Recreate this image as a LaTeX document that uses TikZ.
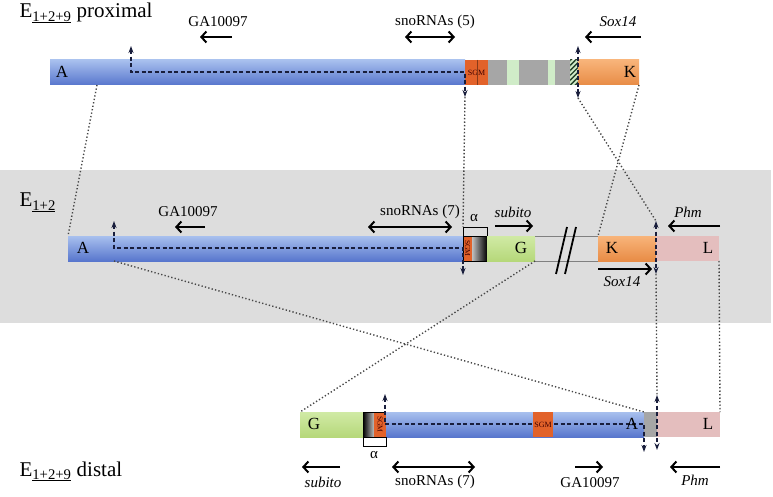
\documentclass[tikz,border=0pt]{standalone}
\usepackage{fontspec}
\setmainfont{Liberation Serif}
\usetikzlibrary{patterns.meta, arrows.meta}

\definecolor{bluetop}{RGB}{168,192,238}
\definecolor{bluebot}{RGB}{88,118,205}
\definecolor{orgtop}{RGB}{248,180,122}
\definecolor{orgbot}{RGB}{232,140,70}
\definecolor{sgmred}{RGB}{226,98,42}
\definecolor{grntop}{RGB}{208,234,165}
\definecolor{grnbot}{RGB}{182,216,122}
\definecolor{palegreen}{RGB}{208,236,200}
\definecolor{seggray}{RGB}{166,166,166}
\definecolor{pinkseg}{RGB}{228,190,190}
\definecolor{bandgray}{RGB}{221,221,221}
\definecolor{dotgray}{RGB}{70,70,70}
\definecolor{dashnavy}{RGB}{25,30,60}
\definecolor{hatchgreen}{RGB}{35,65,40}

\begin{document}
\begin{tikzpicture}[
  x=1pt, y=-1pt,
  seg/.style={rectangle, inner sep=0pt, outer sep=0pt, minimum height=25pt, anchor=north west},
  blueseg/.style={seg, top color=bluetop, bottom color=bluebot},
  orangeseg/.style={seg, top color=orgtop, bottom color=orgbot},
  greenseg/.style={seg, top color=grntop, bottom color=grnbot},
  grayseg/.style={seg, fill=seggray},
  paleseg/.style={seg, fill=palegreen},
  pinkseg/.style={seg, fill=pinkseg},
  hatchseg/.style={seg, fill=palegreen,
    postaction={pattern={Lines[angle=45,distance=3.5pt,line width=1.4pt]}, pattern color=hatchgreen}},
  sgm/.style={seg, fill=sgmred, text=black!75!red, font=\fontsize{8}{8}\selectfont},
  sgmtext/.style={rotate=-90, text=black!75!red, font=\fontsize{7.5}{7.5}\selectfont, inner sep=0pt},
  letter/.style={font=\fontsize{17}{17}\selectfont},
  lab/.style={font=\fontsize{15}{18}\selectfont},
  title/.style={anchor=base west, font=\fontsize{21}{24}\selectfont},
  gene/.style={line width=2pt, >={Straight Barb[length=5pt,width=11pt]}},
  dashline/.style={dashnavy, line width=1.4pt, dash pattern=on 4pt off 2.5pt,
    >={Stealth[length=7pt,width=5pt]}},
  dotline/.style={dotgray, line width=1.4pt, dash pattern=on 1.3pt off 2.2pt},
  bracket/.style={line width=0.8pt},
  gapline/.style={gray, line width=1pt},
  breakmark/.style={line width=1.8pt},
  band/.style={rectangle, fill=bandgray, minimum width=771pt, minimum height=153pt, inner sep=0pt}
]
\useasboundingbox (0,0) rectangle (773,497);

% Background band
\node[band] (band) at (385.5,246.5) {};

% Proximal segments
\node[blueseg, minimum width=415pt] (pA) at (50,60) {};
\node[sgm, minimum width=23pt] (pS) at (465,60) {SGM};
\node[grayseg, minimum width=19pt] (pG1) at (488,60) {};
\node[paleseg, minimum width=12pt] (pP1) at (507,60) {};
\node[grayseg, minimum width=29pt] (pG2) at (519,60) {};
\node[paleseg, minimum width=7pt] (pP2) at (548,60) {};
\node[grayseg, minimum width=15pt] (pG3) at (555,60) {};
\node[hatchseg, minimum width=8pt] (pH) at (570,60) {};
\node[orangeseg, minimum width=61pt] (pK) at (578,60) {};
\draw[sgmred!60!black, line width=0.4pt] ([xshift=12pt]pS.north west) -- ([xshift=12pt]pS.south west);

% E1+2 segments
\node[blueseg, minimum width=395pt] (qA) at (68,236) {};
\node[sgm, minimum width=9pt] (qS) at (463,236) {};
\node[seg, minimum width=15pt, left color=black!25, right color=black] (qX) at (472,236) {};
\node[sgmtext] (qSt) at (qS.center) {SGM};
\draw[line width=0.6pt] (qS.north west) rectangle (qX.south east);
\node[greenseg, minimum width=48pt] (qG) at (487,236) {};
\node[orangeseg, minimum width=58pt] (qK) at (598,236) {};
\node[pinkseg, minimum width=63pt] (qL) at (656,236) {};
\draw[gapline] (qG.north east) -- (qK.north west);
\draw[gapline] (qG.south east) -- (qK.south west);
\coordinate (brk) at (566,250);
\draw[breakmark] ([shift={(-10,24)}]brk) -- ++(11,-47);
\draw[breakmark] ([shift={(-1,24)}]brk) -- ++(11,-47);

% Distal segments
\node[greenseg, minimum width=63pt] (rG) at (300,412) {};
\node[seg, minimum width=11pt, left color=black, right color=black!25] (rX) at (363,412) {};
\node[sgm, minimum width=12pt] (rS) at (374,412) {};
\node[sgmtext] (rSt) at (rS.center) {SGM};
\draw[line width=0.6pt] (rX.north west) rectangle (rS.south east);
\node[blueseg, minimum width=258pt] (rA) at (386,412) {};
\node[grayseg, minimum width=13pt] (rY) at (644,412) {};
\node[pinkseg, minimum width=63pt] (rL) at (657,412) {};

% Dashed breakpoints
\coordinate (pU) at (131,46); \coordinate (pU0) at (131,72);
\coordinate (pD0) at (465,72); \coordinate (pD) at (465,97);
\coordinate (pT) at (578,46); \coordinate (pB) at (578,98);
\draw[dashline, <->] (pU) -- (pU0) -- (pD0) -- (pD);
\draw[dashline, <->] (pT) -- (pB);

\coordinate (qU) at (114,221); \coordinate (qU0) at (114,248);
\coordinate (qD0) at (463,248); \coordinate (qD) at (463,275);
\coordinate (qT) at (656,221); \coordinate (qB) at (656,274);
\draw[dashline, <->] (qU) -- (qU0) -- (qD0) -- (qD);
\draw[dashline, <->] (qT) -- (qB);

\coordinate (rU) at (385,394); \coordinate (rU0) at (385,424);
\coordinate (rD0) at (644,424); \coordinate (rD) at (644,452);
\coordinate (rT) at (657,395); \coordinate (rB) at (657,450);
\draw[dashline, <->] (rU) -- (rU0) -- (rD0) -- (rD);
\draw[dashline, <->] (rT) -- (rB);
\node[sgm, minimum width=20pt] (rS2) at (533,412) {SGM};

% Dotted correspondences
\coordinate (pa) at (97,85);
\coordinate (qbr) at (463,227);
\coordinate (qa) at (114,261);
\draw[dotline] (pa) -- (qA.north west);
\draw[dotline] (pD) -- (qbr);
\draw[dotline] (pB) -- (qT);
\draw[dotline] (pK.south east) -- (qK.north west);
\draw[dotline] (qa) -- (rA.north east);
\draw[dotline] (qG.south east) -- (rG.north west);
\draw[dotline] (qB) -- (rT);
\draw[dotline] (qL.south east) -- (rL.north east);

% Alpha brackets
\draw[bracket] (qS.north west) -- ++(0,-9) -| (qX.north east);
\node[lab] (qal) at (474,218) {α};
\draw[bracket] (rX.south west) -- ++(0,9) -| (rS.south east);
\node[lab] (ral) at (374,455) {α};

% Segment letters
\node[letter] (lpA) at (62,72) {A};
\node[letter] (lpK) at (630,72) {K};
\node[letter] (lqA) at (83,248) {A};
\node[letter] (lqG) at (521,248) {G};
\node[letter] (lqK) at (612,248) {K};
\node[letter] (lqL) at (708,248) {L};
\node[letter] (lrG) at (314,424) {G};
\node[letter] (lrA) at (632,424) {A};
\node[letter] (lrL) at (708,424) {L};

% Titles
\node[title] (ttlp) at (16,18) {E\textsubscript{\underline{1+2+9}} proximal};
\node[title] (ttlq) at (16,207) {E\textsubscript{\underline{1+2}}};
\node[title] (ttlr) at (16,476) {E\textsubscript{\underline{1+2+9}} distal};

% Genes
\node[lab] (t1) at (218,22) {GA10097};
\draw[gene, ->] ([shift={(14,15)}]t1.center) -- ++(-32,0);
\node[lab] (t2) at (435,22) {snoRNAs (5)};
\draw[gene, <->] ([shift={(-30,15)}]t2.center) -- ++(50,0);
\node[lab] (t3) at (618,22) {\itshape Sox14};
\draw[gene, ->] ([shift={(23,15)}]t3.center) -- ++(-56,0);

\node[lab] (t4) at (188,212) {GA10097};
\draw[gene, ->] ([shift={(17,15)}]t4.center) -- ++(-30,0);
\node[lab] (t5) at (420,212) {snoRNAs (7)};
\draw[gene, <->] ([shift={(-52,15)}]t5.center) -- ++(84,0);
\node[lab] (t6) at (513,212) {\itshape subito};
\draw[gene, ->] ([shift={(-18,14)}]t6.center) -- ++(38,0);
\node[lab] (t7) at (688,212) {\itshape Phm};
\draw[gene, ->] ([shift={(32,14)}]t7.center) -- ++(-52,0);
\node[lab] (t8) at (622,282) {\itshape Sox14};
\draw[gene, ->] ([shift={(-24,-13)}]t8.center) -- ++(54,0);

\node[lab] (t9) at (323,482) {\itshape subito};
\draw[gene, ->] ([shift={(17,-15)}]t9.center) -- ++(-38,0);
\node[lab] (t10) at (435,482) {snoRNAs (7)};
\draw[gene, <->] ([shift={(-43,-15)}]t10.center) -- ++(83,0);
\node[lab] (t11) at (590,483) {GA10097};
\draw[gene, ->] ([shift={(-15,-16)}]t11.center) -- ++(28,0);
\node[lab] (t12) at (695,480) {\itshape Phm};
\draw[gene, ->] ([shift={(25,-13)}]t12.center) -- ++(-50,0);

\end{tikzpicture}
\end{document}
